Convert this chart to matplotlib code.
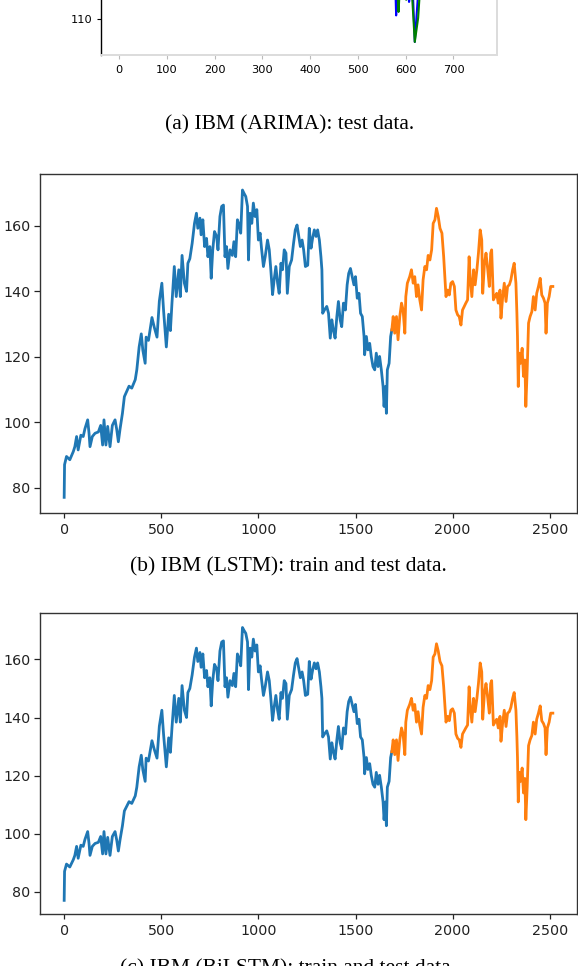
import numpy as np
import matplotlib
matplotlib.use("Agg")
import matplotlib.pyplot as plt

# ---- IBM closing price readings (day index, price) ----
day_idx = [0, 2, 12, 29, 47, 55, 64, 72, 86, 98, 107, 121, 128, 133, 145, 159, 176, 188, 198, 205,
           215, 224, 236, 248, 262, 271, 279, 288, 300, 310, 322, 334, 348, 366, 374, 386, 397, 405, 417, 422,
           434, 452, 464, 478, 490, 503, 512, 526, 538, 547, 555, 567, 577, 590, 598, 607, 619, 630, 637, 647,
           659, 671, 681, 688, 699, 705, 714, 723, 733, 740, 750, 757, 765, 774, 785, 792, 802, 811, 820, 828,
           836, 843, 854, 866, 874, 883, 892, 901, 909, 918, 926, 935, 944, 949, 957, 966, 974, 983, 992, 1000,
           1009, 1016, 1026, 1035, 1047, 1056, 1064, 1073, 1081, 1090, 1099, 1107, 1116, 1124, 1133, 1142, 1149, 1159, 1171, 1181,
           1190, 1199, 1208, 1216, 1225, 1233, 1242, 1254, 1262, 1271, 1279, 1288, 1297, 1305, 1314, 1322, 1327, 1331, 1340, 1352,
           1361, 1370, 1378, 1386, 1395, 1404, 1412, 1421, 1429, 1438, 1448, 1457, 1465, 1474, 1483, 1492, 1500, 1509, 1518, 1526,
           1535, 1544, 1547, 1556, 1564, 1573, 1581, 1590, 1599, 1607, 1616, 1624, 1633, 1642, 1647, 1654, 1659, 1664, 1673, 1681,
           1687, 1694, 1702, 1711, 1719, 1728, 1737, 1745, 1754, 1759, 1767, 1779, 1788, 1797, 1805, 1814, 1822, 1831, 1840, 1848,
           1857, 1866, 1874, 1883, 1892, 1900, 1909, 1917, 1926, 1935, 1945, 1954, 1959, 1966, 1974, 1983, 1991, 2000, 2009, 2017,
           2026, 2034, 2043, 2051, 2060, 2068, 2077, 2085, 2090, 2099, 2108, 2116, 2125, 2133, 2142, 2150, 2155, 2164, 2172, 2181,
           2189, 2196, 2201, 2210, 2218, 2227, 2235, 2244, 2249, 2258, 2266, 2275, 2283, 2292, 2300, 2309, 2317, 2326, 2331, 2334,
           2338, 2343, 2350, 2358, 2365, 2372, 2377, 2384, 2391, 2399, 2408, 2416, 2425, 2433, 2442, 2451, 2459, 2468, 2476, 2481,
           2488, 2497, 2505, 2516]
price = [77, 87, 89.5, 88.5, 91, 92.5, 95.6, 91.5, 96, 95.6, 98, 100.7, 96.6, 92.5, 95.6, 96.6, 97, 99, 93, 100.7,
         93, 98.7, 92.5, 99, 100.7, 97.6, 94, 98, 102.7, 107.8, 109.4, 111, 110.4, 113, 116, 123, 127, 122, 118, 126,
         125, 132, 129, 126, 137, 142.5, 134, 123, 133, 128, 136.4, 147.6, 138.4, 146.6, 138.4, 151, 142.5, 140, 148.6, 150,
         154.7, 160.8, 163.9, 159.3, 162.4, 157.3, 161.9, 153.7, 156.2, 150.6, 153.7, 144, 152.7, 158.3, 156.8, 152.7, 162.9, 166, 166.4, 150.6,
         153.7, 147, 152.7, 151, 155.2, 150.6, 161.9, 160.3, 157.8, 171, 170, 169, 166, 149.6, 163.9, 160.8, 167, 162.9, 165, 155.7,
         157.8, 153.2, 147.6, 150.6, 155.7, 152.7, 146.6, 139, 143.5, 147.6, 142.5, 139.4, 148.6, 146.6, 152.7, 151.7, 139.4, 147.6, 149.6, 154.7,
         158.8, 160.3, 156.8, 153.7, 155.7, 152.7, 147.6, 148, 159.3, 153.2, 156.2, 158.8, 156.8, 158.8, 155.7, 150.6, 146.6, 133.3, 134.3, 135.4,
         133.3, 125.7, 131.3, 128.2, 125.7, 132.3, 136.9, 131.3, 129.2, 136.4, 134.3, 142, 145.5, 147, 144.5, 142, 144.5, 137.9, 139.4, 133.3,
         132.3, 126.2, 120.6, 126.2, 122.1, 124.1, 120.1, 117, 116, 121.1, 117, 120.1, 116, 110.9, 104.8, 110.9, 102.7, 116, 118, 126.2,
         128.2, 132.3, 127.2, 132.3, 125.2, 132.3, 136.4, 134.3, 127.2, 138.4, 142.5, 144.5, 146.6, 142.5, 144.5, 138.4, 142, 137.4, 134.3, 143.5,
         147.6, 146.6, 151, 149.6, 152.7, 160.8, 161.9, 165.4, 162.9, 159.3, 157.8, 150.6, 145.5, 138.4, 140.4, 138.9, 142.5, 143, 141.5, 134.3,
         132.8, 132.3, 129.7, 134.3, 135.4, 136.4, 137.4, 150.6, 144.5, 138.4, 146.6, 142, 146.6, 151.7, 158.8, 155.7, 139.4, 148.6, 151.7, 146.6,
         141.5, 151.7, 152.7, 137.4, 138.4, 139.4, 136.4, 140.4, 131.8, 138.4, 142.5, 136.9, 141.5, 142, 143.5, 146.6, 148.6, 142.5, 133.3, 126.2,
         110.9, 121.1, 118, 122.6, 114, 119, 104.8, 116, 130.3, 132.3, 133.8, 138.4, 134.3, 139.4, 141.5, 144, 138.9, 137.9, 136.4, 127.2,
         136.4, 138.4, 141.5, 141.5]
split_day = 1687          # LSTM / BiLSTM train-test split
arima_split_day = 1758    # ARIMA test data start

# ARIMA predictions around the visible dip (test-day index, predicted price)
arima_pred_idx = [566, 572, 577, 585, 589, 596, 601, 606, 612, 619, 626, 630, 636, 644]
arima_pred_vals = [142, 137, 128, 111.7, 120, 118, 114.5, 121, 118, 104.8, 110.3, 117, 129, 132]

captions = ["(a) IBM (ARIMA): test data.",
            "(b) IBM (LSTM): train and test data.",
            "(c) IBM (BiLSTM): train and test data."]

day = np.array(day_idx)
px = np.array(price)

fig = plt.figure(figsize=(5.78, 9.66), dpi=100)
W, H = 578.0, 966.0

def frac_axes(left, top, right, bottom):
    return fig.add_axes([left / W, 1 - bottom / H, (right - left) / W, (bottom - top) / H])

# ---------- panel (a) ----------
axa = frac_axes(101, 55 - 318.4, 497.3, 55)
mask_a = day >= arima_split_day
axa.plot(day[mask_a] - arima_split_day, px[mask_a], color="#0000ff", lw=1.5)
axa.plot(arima_pred_idx, arima_pred_vals, color="#008000", lw=1.5)
axa.set_xlim(-37.7, 791.7)
axa.set_ylim(101.8, 175)
axa.set_yticks([110])
axa.set_xticks(range(0, 800, 100))
axa.spines["top"].set_visible(False)
axa.spines["left"].set_color("black")
axa.spines["left"].set_linewidth(1.0)
axa.spines["bottom"].set_color("#dcdcdc")
axa.spines["bottom"].set_linewidth(1.4)
axa.spines["right"].set_color("#dcdcdc")
axa.spines["right"].set_linewidth(1.4)
axa.tick_params(axis="y", labelsize=8.2, length=3, width=0.8, color="black", pad=3)
axa.tick_params(axis="x", labelsize=8.2, length=3, width=0.8, color="#bbbbbb", pad=4)

# ---------- panels (b), (c) ----------
def draw_panel(ax):
    tr = day <= split_day
    te = day >= split_day
    ax.plot(day[tr], px[tr], color="#1f77b4", lw=2.0)
    ax.plot(day[te], px[te], color="#ff7f0e", lw=2.0)
    ax.set_xlim(-126, 2642)
    ax.set_ylim(72.3, 175.9)
    ax.set_xticks([0, 500, 1000, 1500, 2000, 2500])
    ax.set_yticks([80, 100, 120, 140, 160])
    for s in ax.spines.values():
        s.set_color("#333333")
        s.set_linewidth(1.0)
    ax.tick_params(axis="both", labelsize=10.3, colors="#222222", width=0.9)
    ax.tick_params(axis="y", length=4.5, pad=2)
    ax.tick_params(axis="x", length=3.5, pad=4)

axb = frac_axes(39.7, 174, 577.3, 512.7)
draw_panel(axb)
axc = frac_axes(39.7, 613.3, 577.3, 914)
draw_panel(axc)

cap_kw = dict(ha="center", va="center", fontsize=15.5, family="Liberation Serif", color="black")
fig.text(290 / W, 1 - 125 / H, captions[0], **cap_kw)
fig.text(288 / W, 1 - 566.7 / H, captions[1], **cap_kw)
fig.text(288 / W, 1 - 969 / H, captions[2], **cap_kw)

fig.savefig("out.png", dpi=100)
